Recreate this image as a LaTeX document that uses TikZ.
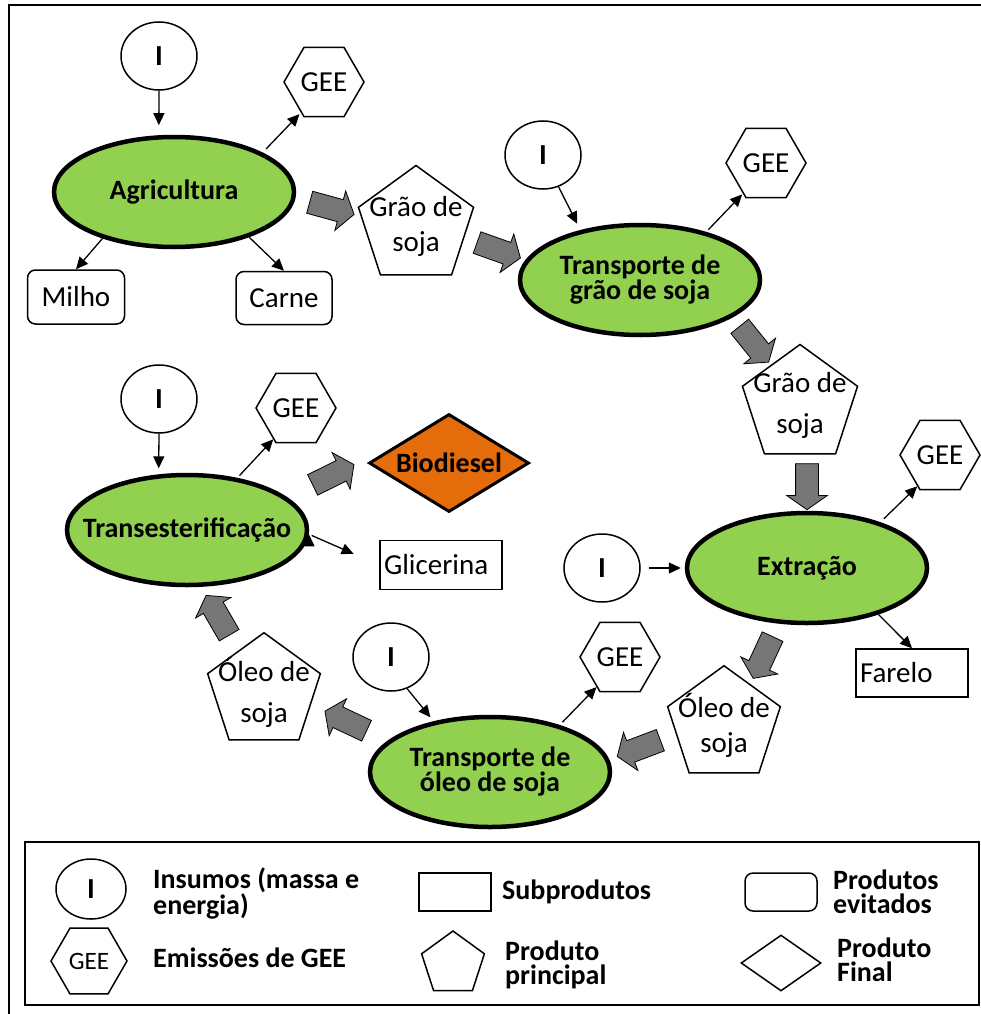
\documentclass[tikz,border=0pt]{standalone}
\usepackage{fontspec}
\setmainfont{Carlito}
\usetikzlibrary{shapes.geometric, shapes.arrows, arrows.meta}
\definecolor{procgreen}{RGB}{146,208,80}
\definecolor{bioorange}{RGB}{228,108,10}
\definecolor{flowgray}{RGB}{118,118,118}
\tikzset{>={Triangle[length=12pt,width=11pt]},
every node/.style={font=\fontsize{29}{35}\selectfont, inner sep=0pt},
stage/.style={ellipse, draw, line width=4.5pt, fill=procgreen, minimum width=240pt,
  minimum height=110pt, inner xsep=-25pt, align=center,
  font=\bfseries\fontsize{28}{25}\selectfont},
input/.style={ellipse, draw, line width=1.5pt, minimum width=76pt, minimum height=68pt,
  font=\bfseries\fontsize{29}{35}\selectfont},
ghg/.style={regular polygon, regular polygon sides=6, draw, line width=1.5pt, minimum size=80pt},
mainprod/.style={regular polygon, regular polygon sides=5, draw, line width=1.5pt,
  minimum size=118pt, inner sep=-12pt, align=center},
byprod/.style={rectangle, draw, line width=1.5pt},
avoided/.style={rectangle, rounded corners=8pt, draw, line width=1.5pt},
finalprod/.style={diamond, draw, line width=3pt, fill=bioorange, shape aspect=1.6,
  minimum width=160pt, minimum height=98pt, font=\bfseries\fontsize{28}{25}\selectfont},
flow/.style={->, line width=1.3pt},
bigflow/.style={single arrow, draw, line width=0.8pt, fill=flowgray, minimum height=46pt,
  inner xsep=0pt, inner ysep=11pt, single arrow head extend=9pt, single arrow tip angle=110,
  sloped, allow upside down},
legtext/.style={anchor=west, align=left, font=\bfseries\fontsize{28}{24}\selectfont}
}

\begin{document}
\begin{tikzpicture}[x=1pt, y=-1pt]
\useasboundingbox (0,0) rectangle (981,1014);
\draw[line width=2pt] (9,1014) -- (9,5) -- (981,5);

% agricultura
\node[input] (iAgri) at (159,56) {I};
\node[ghg] (geeAgri) at (324,82) {GEE};
\node[stage] (agri) at (174,192) {Agricultura};
\node[avoided, minimum width=97pt, minimum height=54pt] (milho) at (76,297) {Milho};
\node[avoided, minimum width=96pt, minimum height=53pt] (carne) at (284,298) {Carne};
\node[mainprod] (grao1) at (416,226) {Grão de\\soja};
% transporte de grao
\node[input] (iTgrao) at (543,155) {I};
\node[ghg] (geeTgrao) at (766,163) {GEE};
\node[stage] (tgrao) at (640,280) {Transporte de\\grão de soja};
\node[mainprod] (grao2) at (800,405) {Grão de\\[6pt]soja};
% extracao
\node[input] (iExtr) at (602,568) {I};
\node[ghg] (geeExtr) at (940,455) {GEE};
\node[stage] (extr) at (807,568) {Extração};
\node[byprod, text width=104pt, inner xsep=4pt, minimum height=48pt, align=left] (farelo) at (912,673) {Farelo};
\node[mainprod] (oleoR) at (724,725) {Óleo de\\soja};
% transporte de oleo
\node[input] (iToleo) at (391,657) {I};
\node[ghg] (geeToleo) at (620,657) {GEE};
\node[stage] (toleo) at (490,772) {Transporte de\\óleo de soja};
\node[mainprod] (oleoL) at (264,692) {Óleo de\\[6pt]soja};
% transesterificacao
\node[input] (iTrans) at (159,399) {I};
\node[ghg] (geeTrans) at (296,408) {GEE};
\node[stage] (trans) at (187,530) {Transesterificação};
\node[finalprod] (bio) at (449,463) {Biodiesel};
\node[byprod, text width=114pt, inner xsep=4pt, minimum height=49pt, align=left] (glic) at (441,565) {Glicerina};

\draw[flow]
(iAgri.south) edge[shorten >=10pt] (agri.105)
(agri.24) edge[shorten <=5pt, shorten >=2pt] (geeAgri.233)
(agri.213) edge (milho.north)
(agri.-31) edge (carne.north)
(iTgrao.-64) edge[shorten >=7pt] (tgrao.140)
(tgrao.36) edge[shorten <=3pt, shorten >=1pt] (geeTgrao.233)
(iExtr.east) edge[shorten <=8pt, shorten >=4pt] (extr.west)
(extr.32) edge[shorten <=5pt] (geeExtr.234)
(extr.-33) edge (farelo.north)
(iToleo.-63) edge[shorten >=5pt] (toleo.138)
(toleo.34) edge[shorten <=4pt] (geeToleo.232)
(iTrans.south) edge[shorten >=6pt] (trans.117)
(trans.46) edge[shorten <=3pt] (geeTrans.234)
(trans.-2) edge[shorten <=3pt, shorten >=28pt] (glic.west)
;

\path (agri.-3) -- node[bigflow] (f1) {} (grao1.170);
\path (grao1.-14) -- node[bigflow] (f2) {} (tgrao.170);
\path (tgrao.-22) -- node[bigflow] (f3) {} (grao2.126);
\path (grao2.south -| extr.north) -- node[bigflow] (f4) {} (extr.north);
\path (extr.-117) -- node[bigflow] (f5) {} (oleoR.57);
\path (oleoR.191) -- node[bigflow] (f6) {} (toleo.6);
\path (toleo.163) -- node[bigflow] (f7) {} (oleoL.-15);
\path (oleoL.122) -- node[bigflow] (f8) {} (trans.-76);
\path (trans.18) -- node[bigflow, pos=0.35] (f9) {} (bio.north west);

% legenda
\draw[line width=1.8pt] (25,842) rectangle (979,1005);
\node[input, minimum width=70pt, minimum height=60pt] (legI) at (91,889) {I};
\node[legtext] (txtI) at (153,893) {Insumos (massa e\\energia)};
\node[ghg, minimum size=76pt, font=\fontsize{25}{30}\selectfont] (legGEE) at (89,961) {GEE};
\node[legtext] (txtGEE) at (153,958) {Emissões de GEE};
\node[byprod, minimum width=72pt, minimum height=38pt] (legSub) at (455,892) {};
\node[legtext] (txtSub) at (502,892) {Subprodutos};
\node[mainprod, minimum size=66pt] (legPent) at (453,964) {};
\node[legtext] (txtPent) at (505,965) {Produto\\principal};
\node[avoided, minimum width=72pt, minimum height=38pt] (legAvoid) at (781,892) {};
\node[legtext] (txtAvoid) at (833,892) {Produtos\\evitados};
\node[finalprod, fill=white, line width=1.5pt, minimum width=80pt, minimum height=56pt] (legFinal) at (781,963) {};
\node[legtext] (txtFinal) at (837,960) {Produto\\Final};
\end{tikzpicture}
\end{document}
